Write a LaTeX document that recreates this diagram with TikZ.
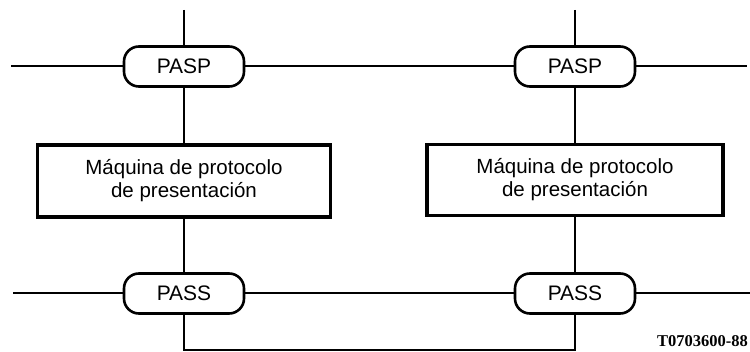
\documentclass[tikz,border=0pt]{standalone}
\usepackage{fontspec}
\setmainfont{Liberation Sans}
\newfontfamily\labelfont{Liberation Serif}
\begin{document}
\begin{tikzpicture}[x=1pt,y=-1pt,
  conn/.style={line width=2pt},
  sap/.style={draw,line width=2.6pt,rounded corners=15pt,minimum width=120pt,minimum height=40pt,inner sep=0pt,font=\fontsize{21}{22}\selectfont},
  pmbox/.style={draw,line width=3.2pt,inner sep=0pt,align=center,font=\fontsize{20.5}{23}\selectfont}]
\useasboundingbox (0,0) rectangle (750,352);
% nodes
\node[sap] (pasp1) at (184,66.5) {PASP};
\node[sap] (pasp2) at (575,66.5) {PASP};
\node[pmbox,minimum width=293pt,minimum height=72pt] (pm1) at (184,181) {Máquina de protocolo\\de presentación};
\node[pmbox,minimum width=296pt,minimum height=71pt] (pm2) at (575,180) {Máquina de protocolo\\de presentación};
\node[sap] (pass1) at (184,293.5) {PASS};
\node[sap] (pass2) at (575,293.5) {PASS};
% free ends
\coordinate (t1) at (184,10);
\coordinate (t2) at (575,10);
\coordinate (l1) at (11,66.5);
\coordinate (r1) at (747,66.5);
\coordinate (l2) at (13,293.5);
\coordinate (r2) at (750,293.5);
\coordinate (b1) at (184,350);
\coordinate (b2) at (575,350);
% connectors
\draw[conn] (t1) -- (pasp1);
\draw[conn] (t2) -- (pasp2);
\draw[conn] (l1) -- (pasp1);
\draw[conn] (pasp1) -- (pasp2);
\draw[conn] (pasp2) -- (r1);
\draw[conn] (pasp1) -- (pm1);
\draw[conn] (pasp2) -- (pm2);
\draw[conn] (pm1) -- (pass1);
\draw[conn] (pm2) -- (pass2);
\draw[conn] (l2) -- (pass1);
\draw[conn] (pass1) -- (pass2);
\draw[conn] (pass2) -- (r2);
\draw[conn] (pass1) -- (b1) -- (b2) -- (pass2);
% label
\node[anchor=base east,inner sep=0pt,font=\labelfont\bfseries\fontsize{16.5}{16.5}\selectfont] (lab) at (748,347) {T0703600-88};
\end{tikzpicture}
\end{document}
